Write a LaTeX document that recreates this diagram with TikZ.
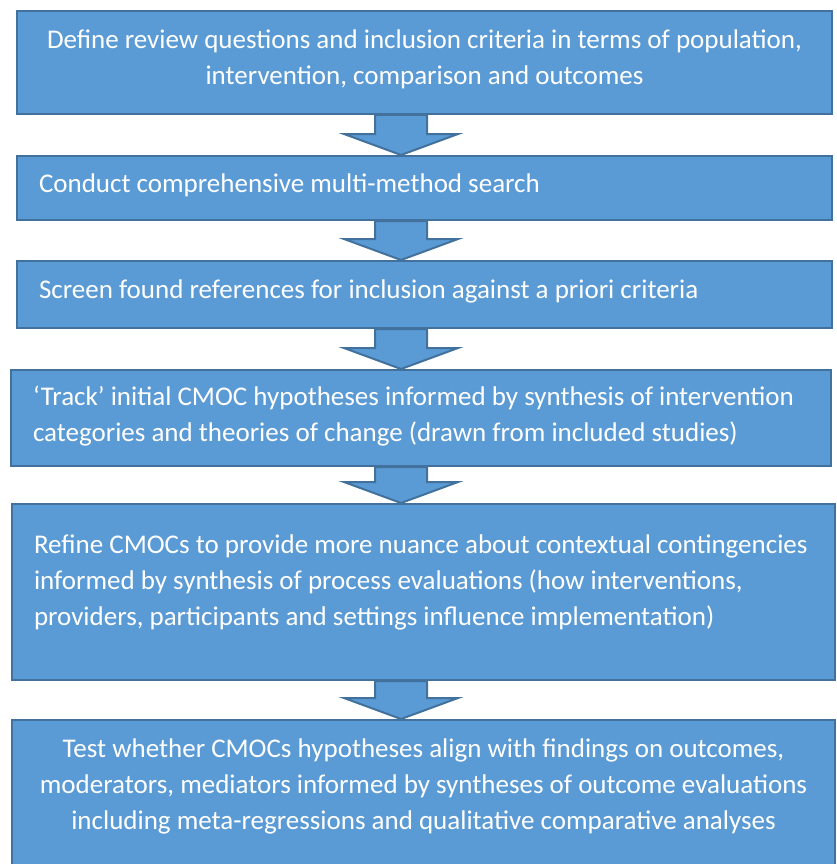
\documentclass[tikz,border=0pt]{standalone}
\usepackage{fontspec}
\setmainfont{Carlito}
\usetikzlibrary{calc}
\definecolor{stepfill}{HTML}{5B9BD5}
\definecolor{stepline}{HTML}{41719C}

\begin{document}
\begin{tikzpicture}[x=1pt,y=-1pt,
  stepbox/.style={draw=stepline,line width=2pt,fill=stepfill,
    anchor=north west,inner sep=0pt},
  steptext/.style={text=white,inner sep=0pt,
    font=\fontsize{27}{36}\selectfont},
  flowarrow/.style={draw=stepline,line width=2pt,fill=stepfill,line join=miter}]
  \clip (0,0) rectangle (836,864);
  \coordinate (ax) at (401,0);
  % the six boxes
  \node[stepbox,minimum width=815pt,minimum height=103pt] (s_1) at (16,10) {};
  \node[stepbox,minimum width=815pt,minimum height=64pt]  (s_2) at (16,155) {};
  \node[stepbox,minimum width=815pt,minimum height=67pt]  (s_3) at (16,260) {};
  \node[stepbox,minimum width=820pt,minimum height=96pt]  (s_4) at (10,369) {};
  \node[stepbox,minimum width=823pt,minimum height=176pt] (s_5) at (11,503) {};
  \node[stepbox,minimum width=823pt,minimum height=155pt] (s_6) at (11,719) {};
  % their texts
  \node[steptext,text width=771pt,align=flush center,yshift=3.5pt] (t_1) at (s_1.center)
    {Define review questions and inclusion criteria in terms of population,\\
     intervention, comparison and outcomes};
  \node[steptext,text width=771pt,align=flush left,yshift=3pt] (t_2) at (s_2.center)
    {Conduct comprehensive multi-method search};
  \node[steptext,text width=771pt,align=flush left,yshift=3.5pt] (t_3) at (s_3.center)
    {Screen found references for inclusion against a priori criteria};
  \node[steptext,text width=776pt,align=flush left,yshift=2pt] (t_4) at (s_4.center)
    {‘Track’ initial CMOC hypotheses informed by synthesis of intervention\\
     categories and theories of change (drawn from included studies)};
  \node[steptext,text width=779pt,align=flush left,yshift=9.5pt] (t_5) at (s_5.center)
    {Refine CMOCs to provide more nuance about contextual contingencies\\
     informed by synthesis of process evaluations (how interventions,\\
     providers, participants and settings influence implementation)};
  \node[steptext,text width=779pt,align=flush center,yshift=11pt] (t_6) at (s_6.center)
    {Test whether CMOCs hypotheses align with findings on outcomes,\\
     moderators, mediators informed by syntheses of outcome evaluations\\
     including meta-regressions and qualitative comparative analyses};
  % block arrows between the boxes
  \foreach \a/\b in {s_1/s_2,s_2/s_3,s_3/s_4,s_4/s_5,s_5/s_6}
    \draw[flowarrow] ($(\a.south -| ax)+(-26,0)$) -- ($(\b.north -| ax)+(-26,-21)$)
      -- ++(-31,0) -- (\b.north -| ax) -- ++(57,-21) -- ++(-31,0)
      -- ($(\a.south -| ax)+(26,0)$) -- cycle;
\end{tikzpicture}
\end{document}
